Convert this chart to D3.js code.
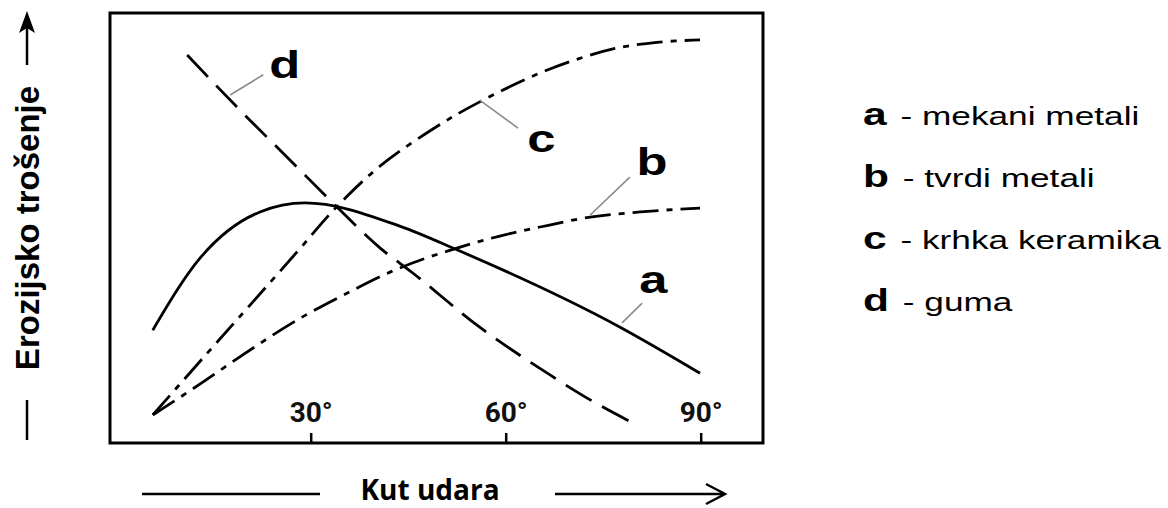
<!DOCTYPE html>
<html>
<head>
<meta charset="utf-8">
<script src="https://cdn.jsdelivr.net/npm/d3@7"></script>
<style>
body { margin: 0; background: #fff; }
svg { display: block; }
</style>
</head>
<body>
<svg id="chart" width="1168" height="508"></svg>
<script>
// Kut udara (degrees) vs erozijsko trošenje (relative units 0-100)
const tickAngles = [30, 60, 90];

// a - mekani metali
const angleA = [5.7, 13, 22.2, 29.1, 43.7, 52.5, 77.6, 89.9];
const wearA = [26.0, 42.8, 53.5, 55.6, 50.2, 44.7, 26.7, 16.0];

// b - tvrdi metali
const angleB = [5.7, 13, 19.1, 28.4, 36.5, 42.2, 52.5, 59.1, 65.3, 73, 80.7, 89.9];
const wearB = [6.3, 13.5, 19.8, 28.8, 35.3, 39.5, 45.1, 47.9, 50.0, 52.3, 53.5, 54.4];

// c - krhka keramika
const angleC = [5.7, 14, 20.7, 27.9, 34, 40.7, 48.8, 56, 66.4, 76.5, 83.7, 89.9];
const wearC = [6.3, 20.5, 31.9, 44.2, 54.7, 64.2, 72.8, 79.1, 86.5, 91.4, 93.0, 93.5];

// d - guma
const angleD = [11, 19.1, 26.8, 34, 40.7, 45.7, 56, 66.4, 73, 79.6];
const wearD = [90.0, 77.2, 65.6, 54.7, 45.1, 39.3, 26.7, 16.0, 9.8, 4.4];

const legendKeys = ["a", "b", "c", "d"];
const legendNames = ["mekani metali", "tvrdi metali", "krhka keramika", "guma"];

// curve letters: centre angle, baseline wear
const labelAngle = [82.7, 82.5, 65.5, 26];
const labelWear = [34.7, 62.1, 67.4, 84.7];
// leader lines [angle1, wear1, angle2, wear2]
const leaders = [
  [81, 32.3, 77.9, 27.7],
  [79.1, 61.6, 73, 52.8],
  [61.9, 73, 56, 79.5],
  [22.7, 85.4, 17.6, 80.7]
];

const xTitle = "Kut udara";
const yTitle = "Erozijsko trošenje";

// frame of the plot
const frame = { left: 110, top: 13, right: 763, bottom: 443 };

const x = d3.scaleLinear().domain([0, 90]).range([115.7, 700.7]);
const y = d3.scaleLinear().domain([0, 100]).range([442, 12]);

const svg = d3.select("#chart");

svg.append("rect")
  .attr("x", frame.left)
  .attr("y", frame.top)
  .attr("width", frame.right - frame.left)
  .attr("height", frame.bottom - frame.top)
  .attr("fill", "none")
  .attr("stroke", "#000")
  .attr("stroke-width", 3);

// ticks point up into the plot, labels above them
svg.append("g")
  .attr("transform", `translate(0,${frame.bottom})`)
  .call(d3.axisTop(x).tickValues(tickAngles).tickSize(10).tickPadding(11).tickFormat(d => d + "°"))
  .call(g => g.select(".domain").remove())
  .call(g => g.selectAll("line").attr("stroke", "#000").attr("stroke-width", 2.5))
  .call(g => g.selectAll("text")
    .attr("font-family", "Roboto, 'Liberation Sans', sans-serif")
    .attr("font-size", 28)
    .attr("font-weight", "bold")
    .attr("fill", "#111"));

const series = [
  { angle: angleA, wear: wearA, dash: null, curve: d3.curveMonotoneX },
  { angle: angleB, wear: wearB, dash: "26,8,6,8", curve: d3.curveMonotoneX },
  { angle: angleC, wear: wearC, dash: "26,8,6,8", curve: d3.curveCatmullRom.alpha(0.5) },
  { angle: angleD, wear: wearD, dash: "30,12", curve: d3.curveMonotoneX }
];

svg.append("g")
  .selectAll("path")
  .data(series)
  .join("path")
  .attr("d", s => d3.line()
    .x(d => x(d[0]))
    .y(d => y(d[1]))
    .curve(s.curve)(s.angle.map((a, i) => [a, s.wear[i]])))
  .attr("fill", "none")
  .attr("stroke", "#000")
  .attr("stroke-width", 2.8)
  .attr("stroke-dasharray", s => s.dash);

// leader lines + letters
svg.append("g")
  .selectAll("line")
  .data(leaders)
  .join("line")
  .attr("x1", d => x(d[0]))
  .attr("y1", d => y(d[1]))
  .attr("x2", d => x(d[2]))
  .attr("y2", d => y(d[3]))
  .attr("stroke", "#8a8a8a")
  .attr("stroke-width", 1.6);

svg.append("g")
  .selectAll("text")
  .data(legendKeys)
  .join("text")
  .attr("transform", (d, i) => `translate(${x(labelAngle[i])},${y(labelWear[i])}) scale(1.3,1)`)
  .attr("text-anchor", "middle")
  .attr("font-family", "'Liberation Sans', Arial, sans-serif")
  .attr("font-weight", "bold")
  .attr("font-size", 39)
  .text(d => d);

// legend on the right
const legendRowY = [125, 187, 249, 311];
const legend = svg.append("g")
  .selectAll("text")
  .data(legendKeys)
  .join("text")
  .attr("transform", (d, i) => `translate(863,${legendRowY[i]}) scale(1.33,1)`)
  .attr("font-family", "'Liberation Sans', Arial, sans-serif")
  .attr("fill", "#000");
legend.append("tspan")
  .attr("font-weight", "bold")
  .attr("font-size", 32)
  .text(d => d);
legend.append("tspan")
  .attr("font-size", 26.5)
  .attr("dx", 3)
  .text((d, i) => " - " + legendNames[i]);

// x axis title with arrows
const titleY = 494;
svg.append("line")
  .attr("x1", 142).attr("x2", 320)
  .attr("y1", titleY).attr("y2", titleY)
  .attr("stroke", "#000").attr("stroke-width", 2.5);
svg.append("text")
  .attr("x", 430)
  .attr("y", 500)
  .attr("text-anchor", "middle")
  .attr("font-family", "'Open Sans', sans-serif")
  .attr("font-weight", "bold")
  .attr("font-size", 28)
  .text(xTitle);
svg.append("line")
  .attr("x1", 555).attr("x2", 724)
  .attr("y1", titleY).attr("y2", titleY)
  .attr("stroke", "#000").attr("stroke-width", 2.5);
svg.append("path")
  .attr("d", `M706,${titleY - 10} L725,${titleY} L706,${titleY + 10}`)
  .attr("fill", "none")
  .attr("stroke", "#000")
  .attr("stroke-width", 2.5);

// y axis title with arrow
svg.append("text")
  .attr("transform", "translate(39,228) rotate(-90)")
  .attr("text-anchor", "middle")
  .attr("font-family", "'Liberation Sans', Arial, sans-serif")
  .attr("font-weight", "bold")
  .attr("font-size", 33)
  .text(yTitle);
svg.append("line")
  .attr("x1", 27).attr("x2", 27)
  .attr("y1", 400).attr("y2", 440)
  .attr("stroke", "#000").attr("stroke-width", 2.5);
svg.append("line")
  .attr("x1", 27).attr("x2", 27)
  .attr("y1", 28).attr("y2", 65)
  .attr("stroke", "#000").attr("stroke-width", 2.5);
svg.append("path")
  .attr("d", "M27,11 L35,33 L27,28 L19,33 Z")
  .attr("fill", "#000");
</script>
</body>
</html>
